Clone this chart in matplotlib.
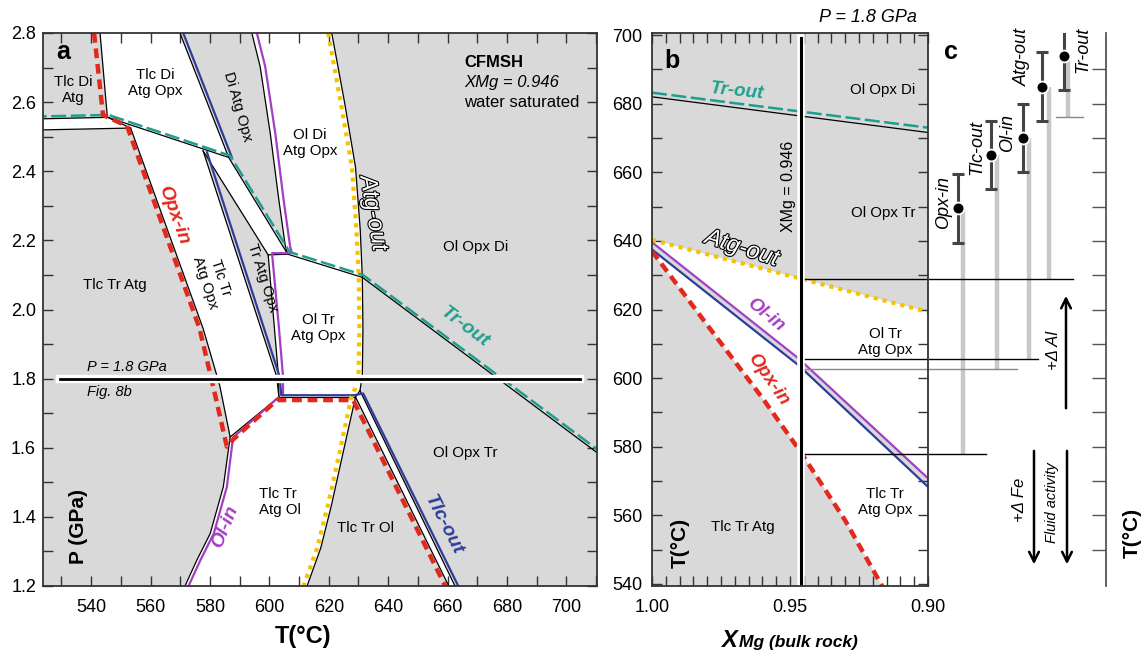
import numpy as np
import matplotlib.pyplot as plt
import matplotlib.patheffects as pe
from matplotlib.patches import Polygon
from matplotlib.ticker import MultipleLocator, FormatStrFormatter, FixedLocator

plt.rcParams['font.family'] = ['Liberation Sans', 'DejaVu Sans']

GRAY = '#d9d9d9'
RED = '#e3281e'
BLUE = '#2e3d99'
PURPLE = '#a43fc4'
GREEN = '#1f9e8e'
YELLOW = '#f7c300'
FRAME = '#333333'

# ---------------- panel a : P-T section, points are (T degC, P GPa) ----------------
opx_in_blk = [(543.0, 2.80), (545.4, 2.563), (545.6, 2.556), (553.3, 2.525), (565.3, 2.24),
              (577.7, 1.945), (583.3, 1.78), (586.8, 1.631), (603.2, 1.747)]
opx_in_red = [(541.0, 2.80), (544.0, 2.563), (545.4, 2.557), (552.1, 2.531), (564.2, 2.24),
              (576.5, 1.945), (581.1, 1.777), (585.7, 1.603), (587.8, 1.624), (602.6, 1.738),
              (628.2, 1.738), (659.2, 1.20)]
ol_in_blk = [(586.8, 1.631), (584.5, 1.487), (580.1, 1.352), (575.6, 1.275), (571.6, 1.20)]
ol_in_low = [(603.0, 1.745), (587.8, 1.630), (585.7, 1.487), (581.3, 1.352), (576.8, 1.275), (572.8, 1.20)]
ol_in_up = [(595.8, 2.80), (598.6, 2.703), (602.0, 2.51), (604.8, 2.317), (607.0, 2.182), (607.6, 2.163),
            (600.9, 2.163), (603.2, 1.95), (604.6, 1.806), (604.6, 1.752)]
strip_blk = [(520.0, 2.519), (553.3, 2.525)]
tr_out_blk = [(520.0, 2.551), (545.6, 2.556), (586.3, 2.440), (606.2, 2.160), (631.3, 2.093), (712.0, 1.575)]
tr_out_grn = [(520.0, 2.558), (545.8, 2.563), (586.8, 2.445), (606.9, 2.166), (631.5, 2.100), (712.0, 1.585)]
di_band_left = [(569.9, 2.80), (586.3, 2.440)]
di_band_blue = [(571.0, 2.80), (587.3, 2.442)]
di_band_right = [(594.1, 2.80), (596.9, 2.703), (600.3, 2.51), (603.2, 2.317), (605.4, 2.182), (606.2, 2.160)]
tr_band_left = [(577.7, 2.459), (602.5, 1.805), (603.2, 1.747)]
tr_band_right = [(577.7, 2.459), (599.6, 2.158), (603.1, 1.805), (603.2, 1.747)]
tlc_out_blue = [(579.0, 2.455), (603.5, 1.805), (604.0, 1.752), (628.6, 1.752), (631.6, 1.757), (663.6, 1.20)]
tip_blk = [(599.6, 2.158), (606.2, 2.160)]
base_blk = [(603.2, 1.747), (629.0, 1.747)]
atg_up_blk = [(621.0, 2.80), (625.3, 2.60), (629.0, 2.412), (630.6, 2.23), (631.3, 2.093), (631.5, 1.94),
              (631.3, 1.81), (630.5, 1.765), (629.0, 1.747)]
atg_lo_blk = [(629.0, 1.747), (624.8, 1.585), (620.8, 1.43), (617.3, 1.31), (612.7, 1.20)]
atg_yel = [(619.8, 2.80), (624.0, 2.60), (627.8, 2.412), (629.3, 2.23), (630.1, 2.09), (630.3, 1.94),
           (630.0, 1.81), (628.8, 1.77), (627.6, 1.747), (623.6, 1.585), (619.6, 1.43), (616.1, 1.31),
           (611.5, 1.20)]
tlc_left_blk = [(629.0, 1.747), (660.4, 1.20)]
tlc_right_blk = [(630.5, 1.765), (662.5, 1.20)]

# white fields (everything else is grey)
white_strip = [(520.0, 2.551), (545.6, 2.556), (553.3, 2.525), (520.0, 2.519)]
white_opx = [(543.0, 2.80), (569.9, 2.80), (586.3, 2.440), (606.2, 2.160), (599.6, 2.158), (603.1, 1.805),
             (603.2, 1.747), (586.8, 1.631), (583.3, 1.78), (577.7, 1.945), (565.3, 2.24), (553.3, 2.525),
             (545.6, 2.556), (545.4, 2.563)]
gray_tr_band = [(577.7, 2.459), (602.5, 1.805), (603.2, 1.747), (603.1, 1.805), (599.6, 2.158)]
white_ol = [(594.1, 2.80), (596.9, 2.703), (600.3, 2.51), (603.2, 2.317), (605.4, 2.182), (606.2, 2.160),
            (599.6, 2.158), (603.1, 1.805), (603.2, 1.747), (629.0, 1.747), (630.5, 1.765), (631.3, 1.81),
            (631.5, 1.94), (631.3, 2.093), (630.6, 2.23), (629.0, 2.412), (625.3, 2.60), (621.0, 2.80)]
white_tlc_ol = [(586.8, 1.631), (603.2, 1.747), (629.0, 1.747), (624.8, 1.585), (620.8, 1.43), (617.3, 1.31),
                (612.7, 1.20), (571.6, 1.20), (575.6, 1.275), (580.1, 1.352), (584.5, 1.487)]
white_tlc_strip = [(629.0, 1.747), (630.5, 1.765), (662.5, 1.20), (660.4, 1.20)]

# ---------------- panel b : T-XMg section at 1.8 GPa, (XMg, T degC) ----------------
b_tr_blk = [(1.00, 682.0), (0.90, 671.6)]
b_tr_grn = [(1.00, 683.2), (0.90, 673.0)]
b_atg = [(1.00, 640.3), (0.90, 619.3)]
b_ol = [(1.00, 639.6), (0.947, 605.8), (0.90, 570.8)]
b_tlc = [(1.00, 637.5), (0.947, 603.8), (0.90, 568.3)]
b_opx = [(1.00, 637.0), (0.98, 615.5), (0.96, 594.2), (0.946, 578.3), (0.93, 558.5), (0.916, 538.5)]
xmg_rock = 0.946

# ---------------- panel c : reaction temperatures ----------------
c_names = ['Opx-in', 'Tlc-out', 'Ol-in', 'Atg-out', 'Tr-out']
c_temp = [649.5, 665.0, 670.0, 685.0, 694.0]
c_err = [10, 10, 10, 10, 10]
c_base = [578.0, 602.6, 605.5, 629.0, 676.0]   # T of each reaction at XMg = 0.946


def arr(pts):
    a = np.array(pts)
    return a[:, 0], a[:, 1]


def line(ax, pts, **kw):
    x, y = arr(pts)
    ax.plot(x, y, **kw)


def fill(ax, pts, color, z=1):
    ax.add_patch(Polygon(pts, closed=True, fc=color, ec='none', zorder=z))


W, H = 1144, 655


def box(x0, y0, x1, y1):
    return [x0 / W, 1 - y1 / H, (x1 - x0) / W, (y1 - y0) / H]


fig = plt.figure(figsize=(11.44, 6.55), dpi=100)
ax_a = fig.add_axes(box(43, 33, 597, 586))
ax_b = fig.add_axes(box(652, 33, 928, 586))
ax_c = fig.add_axes(box(929, 33, 1106, 586))

outline = [pe.withStroke(linewidth=1.6, foreground='black')]
dbl = [pe.Stroke(linewidth=6, foreground='white'), pe.Normal()]
blk = dict(color='black', lw=0.9, zorder=3)
red_kw = dict(color=RED, lw=3.2, ls=(0, (2.2, 1.3)), zorder=4, dash_capstyle='butt')
yel_kw = dict(color=YELLOW, lw=3.0, ls=(0, (1, 1.2)), zorder=4, dash_capstyle='butt')
grn_kw = dict(color=GREEN, lw=1.8, ls=(0, (6, 1.8)), zorder=4)

# ---------- panel a ----------
ax = ax_a
ax.set_facecolor(GRAY)
for poly in [white_strip, white_opx, white_ol, white_tlc_ol, white_tlc_strip]:
    fill(ax, poly, 'white')
fill(ax, gray_tr_band, GRAY, z=1.5)

for pts in [opx_in_blk, ol_in_blk, strip_blk, tr_out_blk, di_band_left, di_band_right, tr_band_left,
            tr_band_right, tip_blk, base_blk, atg_up_blk, atg_lo_blk, tlc_left_blk, tlc_right_blk]:
    line(ax, pts, **blk)

line(ax, ol_in_low, color=PURPLE, lw=1.6, zorder=4)
line(ax, ol_in_up, color=PURPLE, lw=1.6, zorder=4)
line(ax, di_band_blue, color=BLUE, lw=1.6, zorder=4)
line(ax, tlc_out_blue, color=BLUE, lw=1.6, zorder=4)
line(ax, tr_out_grn, **grn_kw)
line(ax, atg_yel, **yel_kw)
line(ax, opx_in_red, **red_kw)

ax.plot([529.6, 704.6], [1.8, 1.8], color='black', lw=2.0, zorder=6, path_effects=dbl)

ax.set_xlim(523.8, 710.3)
ax.set_ylim(1.2, 2.8)
ax.xaxis.set_major_locator(MultipleLocator(20))
ax.xaxis.set_minor_locator(MultipleLocator(10))
ax.yaxis.set_major_locator(MultipleLocator(0.2))
ax.yaxis.set_minor_locator(MultipleLocator(0.1))
ax.yaxis.set_major_formatter(FormatStrFormatter('%.1f'))

fs = 10.8
ax.text(530.6, 2.745, 'a', fontsize=18, fontweight='bold', ha='center', va='center', zorder=7)
ax.text(533.9, 2.635, 'Tlc Di\nAtg', fontsize=fs, ha='center', va='center', zorder=7)
ax.text(561.5, 2.655, 'Tlc Di\nAtg Opx', fontsize=fs, ha='center', va='center', zorder=7)
ax.text(589.2, 2.586, 'Di Atg Opx', fontsize=fs, ha='center', va='center', rotation=-74, zorder=7)
ax.text(613.7, 2.482, 'Ol Di\nAtg Opx', fontsize=fs, ha='center', va='center', zorder=7)
ax.text(665.6, 2.716, 'CFMSH', fontsize=12, fontweight='bold', ha='left', va='center', zorder=7)
ax.text(665.6, 2.658, 'XMg = 0.946', fontsize=12, style='italic', ha='left', va='center', zorder=7)
ax.text(665.6, 2.600, 'water saturated', fontsize=12, ha='left', va='center', zorder=7)
ax.text(635.0, 2.279, 'Atg-out', fontsize=17, style='italic', color='white', ha='center', va='center',
        rotation=-80, path_effects=outline, zorder=7)
ax.text(669.3, 2.181, 'Ol Opx Di', fontsize=fs, ha='center', va='center', zorder=7)
ax.text(548.1, 2.071, 'Tlc Tr Atg', fontsize=fs, ha='center', va='center', zorder=7)
ax.text(567.6, 2.273, 'Opx-in', fontsize=14, fontweight='bold', style='italic', color=RED,
        ha='center', va='center', rotation=-70, zorder=7)
ax.text(581.1, 2.085, 'Tlc Tr\nAtg Opx', fontsize=fs, ha='center', va='center', rotation=-72, zorder=7)
ax.text(597.6, 2.091, 'Tr Atg Opx', fontsize=fs, ha='center', va='center', rotation=-72, zorder=7)
ax.text(616.4, 1.946, 'Ol Tr\nAtg Opx', fontsize=fs, ha='center', va='center', zorder=7)
ax.text(665.9, 1.950, 'Tr-out', fontsize=14, fontweight='bold', style='italic', color=GREEN,
        ha='center', va='center', rotation=-37, zorder=7)
ax.text(538.5, 1.834, 'P = 1.8 GPa', fontsize=10.5, style='italic', ha='left', va='center', zorder=7)
ax.text(538.5, 1.762, 'Fig. 8b', fontsize=10.5, style='italic', ha='left', va='center', zorder=7)
ax.text(535.7, 1.371, 'P (GPa)', fontsize=15, fontweight='bold', ha='center', va='center', rotation=90, zorder=7)
ax.text(596.5, 1.443, 'Tlc Tr\nAtg Ol', fontsize=fs, ha='left', va='center', zorder=7)
ax.text(585.1, 1.371, 'Ol-in', fontsize=14, fontweight='bold', style='italic', color=PURPLE,
        ha='center', va='center', rotation=68, zorder=7)
ax.text(632.3, 1.368, 'Tlc Tr Ol', fontsize=fs, ha='center', va='center', zorder=7)
ax.text(658.5, 1.376, 'Tlc-out', fontsize=14, fontweight='bold', style='italic', color=BLUE,
        ha='center', va='center', rotation=-63, zorder=7)
ax.text(665.9, 1.585, 'Ol Opx Tr', fontsize=fs, ha='center', va='center', zorder=7)

# ---------- panel b ----------
ax = ax_b
ax.set_facecolor(GRAY)
xa, ya = arr(b_atg)
xo, yo = arr(b_ol)
fill(ax, list(zip(xa, ya)) + list(zip(xo[::-1], yo[::-1])), 'white')
xt, yt = arr(b_tlc)
xr, yr = arr(b_opx)
fill(ax, list(zip(xt, yt)) + [(0.90, 538.0)] + list(zip(xr[::-1], yr[::-1])), 'white')

line(ax, b_tr_blk, **blk)
line(ax, b_tr_grn, **grn_kw)
line(ax, b_ol, color=PURPLE, lw=1.6, zorder=4)
line(ax, b_tlc, color=BLUE, lw=1.6, zorder=4)
line(ax, b_atg, **yel_kw)
line(ax, b_opx, **red_kw)

# reaction temperatures at the bulk-rock XMg, carried over to panel c
hl_colors = ['black', '#888888', 'black', 'black']
for T, col in zip(c_base[:4], hl_colors):
    ax.plot([xmg_rock, 0.90], [T, T], color=col, lw=1.0, zorder=5)

ax.plot([xmg_rock, xmg_rock], [539.4, 699.2], color='black', lw=2.2, zorder=6,
        path_effects=[pe.Stroke(linewidth=5.5, foreground='white'), pe.Normal()])

ax.set_xlim(1.0, 0.9)
ax.set_ylim(539.4, 700.6)
ax.xaxis.set_major_locator(FixedLocator([1.0, 0.95, 0.9]))
ax.xaxis.set_major_formatter(FormatStrFormatter('%.2f'))
ax.xaxis.set_minor_locator(MultipleLocator(0.005))
ax.yaxis.set_major_locator(MultipleLocator(20))
ax.yaxis.set_minor_locator(MultipleLocator(10))

ax.text(0.9928, 692.4, 'b', fontsize=18, fontweight='bold', ha='center', va='center', zorder=7)
ax.text(0.9692, 683.6, 'Tr-out', fontsize=13.5, fontweight='bold', style='italic', color=GREEN,
        ha='center', va='center', rotation=-6, zorder=7)
ax.text(0.9163, 684.0, 'Ol Opx Di', fontsize=fs, ha='center', va='center', zorder=7)
ax.text(0.9163, 648.1, 'Ol Opx Tr', fontsize=fs, ha='center', va='center', zorder=7)
ax.text(0.9507, 655.9, 'XMg = 0.946', fontsize=11.5, ha='center', va='center', rotation=90, zorder=7)
ax.text(0.9674, 637.9, 'Atg-out', fontsize=17, style='italic', color='white', ha='center', va='center',
        rotation=-18, path_effects=outline, zorder=7)
ax.text(0.9590, 618.4, 'Ol-in', fontsize=13.5, fontweight='bold', style='italic', color=PURPLE,
        ha='center', va='center', rotation=-39, zorder=7)
ax.text(0.9580, 599.7, 'Opx-in', fontsize=13.5, fontweight='bold', style='italic', color=RED,
        ha='center', va='center', rotation=-55, zorder=7)
ax.text(0.9156, 610.5, 'Ol Tr\nAtg Opx', fontsize=fs, ha='center', va='center', zorder=7)
ax.text(0.9156, 563.8, 'Tlc Tr\nAtg Opx', fontsize=fs, ha='center', va='center', zorder=7)
ax.text(0.9670, 556.6, 'Tlc Tr Atg', fontsize=fs, ha='center', va='center', zorder=7)
ax.text(0.9899, 551.9, 'T(°C)', fontsize=15, fontweight='bold', ha='center', va='center', rotation=90, zorder=7)

for a_ in (ax_a, ax_b):
    a_.tick_params(which='both', direction='in', top=True, right=True, length=7, width=1.0,
                   color=FRAME, labelsize=13)
    a_.tick_params(axis='x', pad=9)
    a_.tick_params(axis='y', pad=5)
    for s in a_.spines.values():
        s.set_color(FRAME)
        s.set_linewidth(1.3)
        s.set_zorder(8)
ax_b.tick_params(axis='y', pad=7)

# ---------- panel c ----------
ax = ax_c
ax.set_xlim(0, 177)
ax.set_ylim(539.4, 700.6)
for side in ('left', 'top', 'bottom'):
    ax.spines[side].set_visible(False)
ax.spines['right'].set_color('#555555')
ax.spines['right'].set_linewidth(1.3)
ax.set_xticks([])
ax.yaxis.tick_right()
ax.set_yticks(np.arange(550, 700, 10))
ax.tick_params(axis='y', direction='in', length=10, width=1.0, color='#555555', labelright=False)
ax.patch.set_alpha(0)

err_x = [29, 62, 94, 113, 135]
bar_x = [34, 68, 100, 120, 139]
lab_x = [15, 48, 79, 93, 154]
lab_T = [651.3, 667.1, 671.4, 693.6, 695.6]
hl_end = [57, 88, 109, 144]

for T, col, xe in zip(c_base[:4], hl_colors, hl_end):
    ax.plot([0, xe], [T, T], color=col, lw=1.0, zorder=2)
ax.plot([127, 154], [c_base[4], c_base[4]], color='#888888', lw=1.0, zorder=2)

for name, T, e, Tb, xe, xb, xl, tl in zip(c_names, c_temp, c_err, c_base, err_x, bar_x, lab_x, lab_T):
    ax.plot([xb, xb], [Tb, T], color='#c8c8c8', lw=3.2, solid_capstyle='butt', zorder=1)
    ax.errorbar(xe, T, yerr=e, fmt='none', ecolor='#444444', elinewidth=2.2, capsize=4.5, capthick=2.2, zorder=3)
    ax.plot(xe, T, 'o', ms=8.5, mfc='black', mec='white', mew=1.3, zorder=4)
    ax.text(xl, tl, name, fontsize=13, style='italic', rotation=90, ha='center', va='center')

ax.text(22, 695.0, 'c', fontsize=18, fontweight='bold', ha='center', va='center')
akw = dict(arrowstyle='->,head_length=0.7,head_width=0.35', lw=1.8, color='black')
ax.annotate('', xy=(137, 624.8), xytext=(137, 590.4), arrowprops=akw)
ax.annotate('', xy=(105, 544.9), xytext=(105, 579.6), arrowprops=akw)
ax.annotate('', xy=(138, 544.9), xytext=(138, 579.6), arrowprops=akw)
ax.text(124, 608.2, '+Δ Al', fontsize=12, style='italic', rotation=90, ha='center', va='center')
ax.text(91, 564.4, '+Δ Fe', fontsize=12, style='italic', rotation=90, ha='center', va='center')
ax.text(123, 563.8, 'Fluid activity', fontsize=10.5, style='italic', rotation=90, ha='center', va='center')

# ---------- figure-level labels ----------
fig.text(303 / W, 1 - 636 / H, 'T(°C)', fontsize=17, fontweight='bold', ha='center', va='center')
fig.text(721 / W, 1 - 647 / H, 'X', fontsize=17, fontweight='bold', style='italic', ha='left', va='baseline')
fig.text(739 / W, 1 - 647 / H, 'Mg (bulk rock)', fontsize=12.5, fontweight='bold', style='italic',
         ha='left', va='baseline')
fig.text(868 / W, 1 - 17 / H, 'P = 1.8 GPa', fontsize=13, style='italic', ha='center', va='center')
fig.text(1132 / W, 1 - 533 / H, 'T(°C)', fontsize=15, fontweight='bold', rotation=90, ha='center', va='center')

fig.savefig('out.png', dpi=100)
